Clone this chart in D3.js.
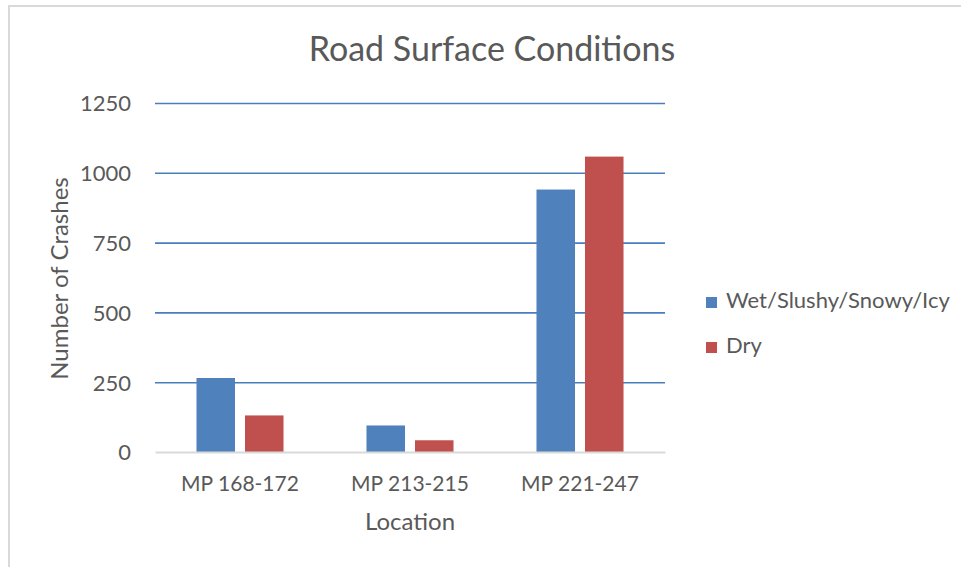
<!DOCTYPE html>
<html>
<head>
<meta charset="utf-8">
<script src="https://cdn.jsdelivr.net/npm/d3@7"></script>
<style>
    body { margin: 0; background: #fff; }
    svg text { font-family: Lato, "Open Sans", sans-serif; fill: #595959; }
</style>
</head>
<body>
<div class="chart"></div>
<script>
/*
    Chart data
*/
const locations = ["MP 168-172", "MP 213-215", "MP 221-247"];
const series_names = ["Wet/Slushy/Snowy/Icy", "Dry"];
const wet_values = [265, 95, 940];
const dry_values = [131, 42, 1058];
const y_ticks = [0, 250, 500, 750, 1000, 1250];
const series_colors = ["#4f81bd", "#c0504d"];

const svg_dims = { width: 961, height: 567 };
const plot = { left: 155, right: 665, top: 103, bottom: 452 };

let rows = locations.map((loc, i) => ({
    location: loc,
    values: [wet_values[i], dry_values[i]]
}));

let container = d3.select(".chart").append("svg")
                    .attr("width", svg_dims.width)
                    .attr("height", svg_dims.height);

// outer chart frame (runs off the page on right and bottom)
container.append("rect")
    .attr("x", 9).attr("y", 6)
    .attr("width", 1000).attr("height", 600)
    .attr("fill", "none")
    .attr("stroke", "#d9d9d9")
    .attr("stroke-width", 2);

/* Scales */
let xScale = d3.scaleBand()
                .domain(locations)
                .range([plot.left, plot.right])
                .paddingInner(0.488)
                .paddingOuter(0.244);

let xInner = d3.scaleBand()
                .domain(series_names)
                .range([0, xScale.bandwidth()])
                .paddingInner(0.206);

let yScale = d3.scaleLinear()
                .domain([0, 1250])
                .range([plot.bottom, plot.top]);

/* Gridlines + y labels */
let yAxis = d3.axisLeft(yScale)
                .tickValues(y_ticks)
                .tickFormat(d3.format("d"))
                .tickSize(-(plot.right - plot.left))
                .tickPadding(24);

let gy = container.append("g")
            .attr("transform", `translate(${plot.left},0)`)
            .call(yAxis);
gy.select(".domain").remove();
gy.selectAll(".tick line")
    .attr("stroke", d => d === 0 ? "none" : "#4a7ebb")
    .attr("stroke-width", 1.6);
gy.selectAll(".tick text")
    .attr("font-size", 22)
    .attr("dy", "0.36em");

/* Bars */
let groups = container.selectAll(".group")
                .data(rows)
                .enter().append("g")
                .attr("class", "group")
                .attr("transform", d => `translate(${xScale(d.location)},0)`);

groups.selectAll("rect")
    .data(d => d.values.map((v, i) => ({ name: series_names[i], value: v, idx: i })))
    .enter().append("rect")
    .attr("x", d => xInner(d.name))
    .attr("width", xInner.bandwidth())
    .attr("y", d => yScale(d.value))
    .attr("height", d => yScale(0) - yScale(d.value))
    .attr("fill", d => series_colors[d.idx]);

/* X axis */
let xAxis = d3.axisBottom(xScale).tickSize(0).tickPadding(24);
let gx = container.append("g")
            .attr("transform", `translate(0,${plot.bottom})`)
            .call(xAxis);
gx.select(".domain")
    .attr("stroke", "#d9d9d9")
    .attr("stroke-width", 2);
gx.selectAll(".tick text")
    .attr("font-size", 21);

/* Titles */
container.append("text")
    .attr("x", 492).attr("y", 61)
    .attr("text-anchor", "middle")
    .attr("font-size", 34)
    .text("Road Surface Conditions");

container.append("text")
    .attr("x", (plot.left + plot.right) / 2).attr("y", 530)
    .attr("text-anchor", "middle")
    .attr("font-size", 24)
    .text("Location");

container.append("text")
    .attr("transform", `translate(68,${(plot.top + plot.bottom) / 2 + 1}) rotate(-90)`)
    .attr("text-anchor", "middle")
    .attr("font-size", 24)
    .text("Number of Crashes");

/* Legend */
let legend = container.selectAll(".legend")
                .data(series_names)
                .enter().append("g")
                .attr("class", "legend")
                .attr("transform", (d, i) => `translate(706,${297 + i * 45})`);
legend.append("rect")
    .attr("width", 11).attr("height", 11)
    .attr("fill", (d, i) => series_colors[i]);
legend.append("text")
    .attr("x", 20).attr("y", 11)
    .attr("font-size", 22)
    .text(d => d);
</script>
</body>
</html>
